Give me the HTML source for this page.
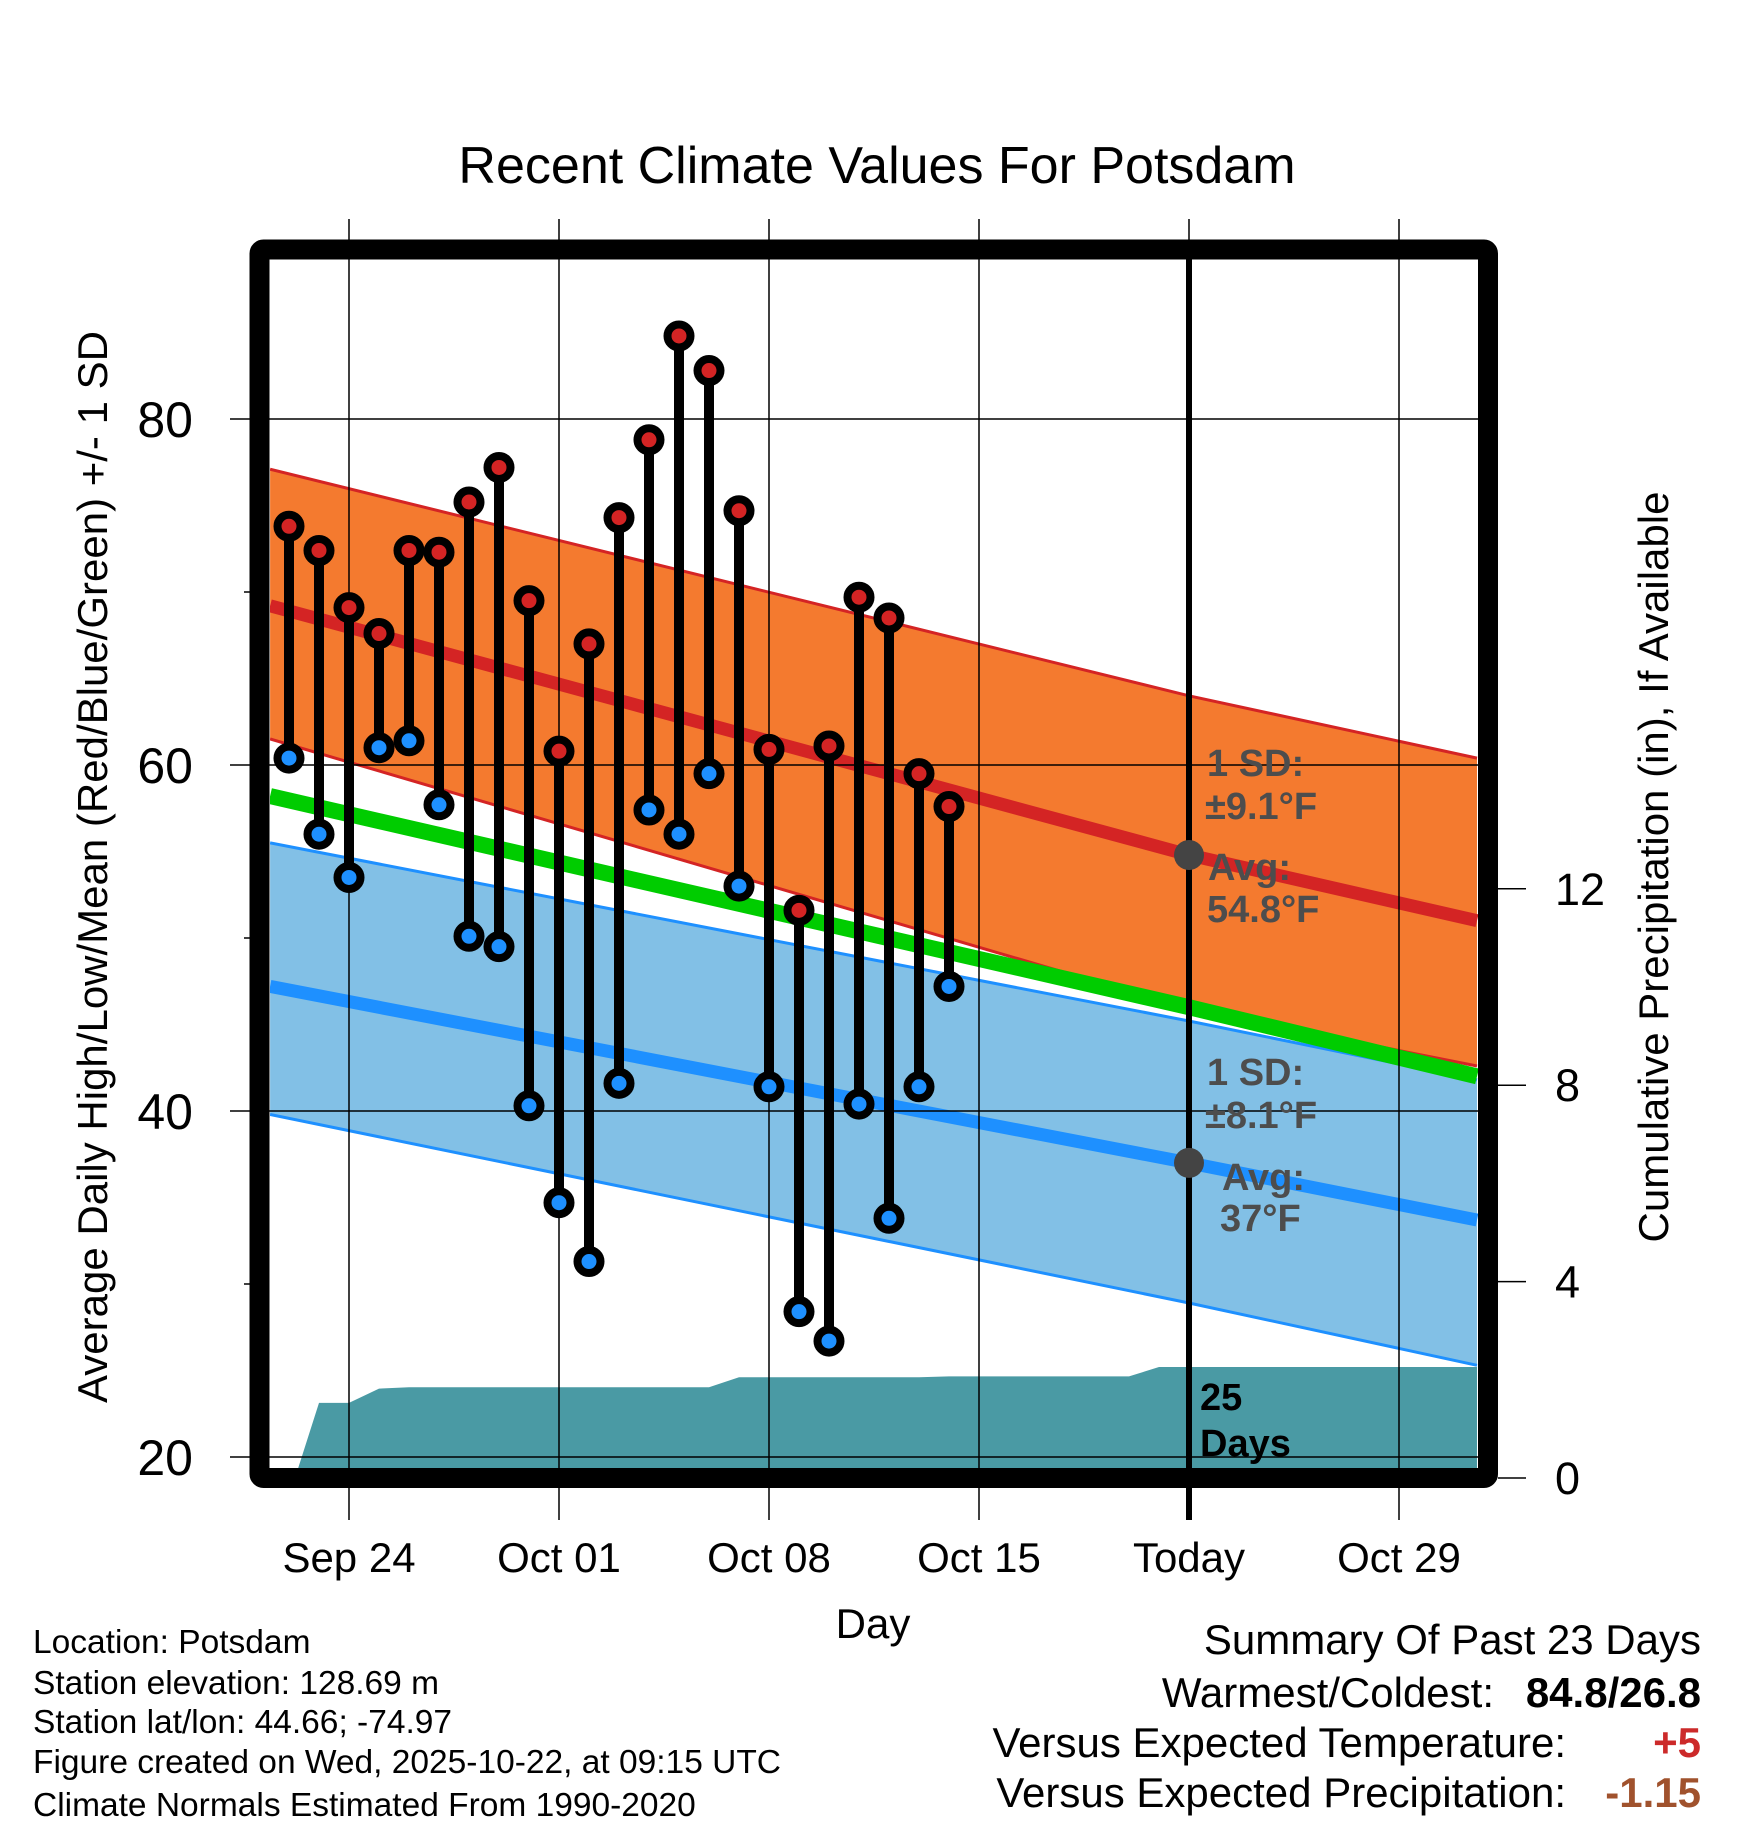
<!DOCTYPE html>
<html><head><meta charset="utf-8"><style>
body{margin:0;background:#fff}
svg{display:block;font-family:"Liberation Sans",Arial,sans-serif}
</style></head><body>
<svg id="chart" width="1748" height="1828" viewBox="0 0 1748 1828" xmlns="http://www.w3.org/2000/svg">
<defs><clipPath id="plotclip"><rect x="270" y="259" width="1208" height="1209"/></clipPath></defs>
<rect width="1748" height="1828" fill="#fff"/>
<text x="877" y="183" font-size="52" text-anchor="middle">Recent Climate Values For Potsdam</text>
<g id="plot" clip-path="url(#plotclip)"></g>
<g id="axes"></g>
<text transform="translate(107,867) rotate(-90)" font-size="42" text-anchor="middle">Average Daily High/Low/Mean (Red/Blue/Green) +/- 1 SD</text>
<text transform="translate(1668,867) rotate(-90)" font-size="42" text-anchor="middle">Cumulative Precipitation (in), If Available</text>
<text x="873" y="1638" font-size="42" text-anchor="middle">Day</text>
<g font-size="33.5">
<text x="33" y="1653">Location: Potsdam</text>
<text x="33" y="1694">Station elevation: 128.69 m</text>
<text x="33" y="1733">Station lat/lon: 44.66; -74.97</text>
<text x="33" y="1773">Figure created on Wed, 2025-10-22, at 09:15 UTC</text>
<text x="33" y="1816">Climate Normals Estimated From 1990-2020</text>
</g>
<g font-size="42">
<text x="1701" y="1654" text-anchor="end">Summary Of Past 23 Days</text>
<text x="1494" y="1707" text-anchor="end">Warmest/Coldest:</text>
<text x="1701" y="1707" text-anchor="end" font-weight="bold">84.8/26.8</text>
<text x="1566" y="1757" text-anchor="end">Versus Expected Temperature:</text>
<text x="1701" y="1757" text-anchor="end" font-weight="bold" fill="#cc2a2a">+5</text>
<text x="1566" y="1807" text-anchor="end">Versus Expected Precipitation:</text>
<text x="1701" y="1807" text-anchor="end" font-weight="bold" fill="#a0522d">-1.15</text>
</g>
</svg>
<script>
// days are offsets from Sep 24
const highs=[73.8,72.4,69.1,67.6,72.4,72.3,75.2,77.2,69.5,60.8,67.0,74.3,78.8,84.8,82.8,74.7,60.9,51.6,61.1,69.7,68.5,59.5,57.6];
const lows=[60.4,56.0,53.5,61.0,61.4,57.7,50.1,49.5,40.3,34.7,31.3,41.6,57.4,56.0,59.5,53.0,41.4,28.4,26.7,40.4,33.8,41.4,47.2];
const firstDay=-2;
const normDays=[-2.63,28,37.6];
const hiMean=[69.2,54.8,51.0];
const hiUp=[77.1,64.0,60.4];
const hiLo=[61.5,45.9,42.6];
const loMean=[47.2,37.0,33.7];
const loUp=[55.5,45.2,41.8];
const loLo=[39.8,28.9,25.3];
const avgMean=[58.2,46.0,42.0];
const precipDays=[-1.8,-1,0,1,2,12,13,19,20,26,27,37.6];
const precipVals=[0,1.53,1.53,1.82,1.85,1.85,2.05,2.05,2.07,2.07,2.26,2.26];
const xTickDays=[0,7,14,21,28,35];
const xTickLabels=["Sep 24","Oct 01","Oct 08","Oct 15","Today","Oct 29"];
const yTicks=[20,40,60,80];
const yMinor=[30,50,70];
const y2Ticks=[0,4,8,12];

const NS="http://www.w3.org/2000/svg";
const X=d=>349+30*d;
const Y=v=>419+(80-v)*17.3;
const P=p=>1478-49.1*p;
const plot=document.getElementById('plot');
const axes=document.getElementById('axes');
function mk(tag,attrs,parent){const e=document.createElementNS(NS,tag);for(const k in attrs)e.setAttribute(k,attrs[k]);parent.appendChild(e);return e;}
function pts(days,vals,fy){return days.map((d,i)=>X(d).toFixed(1)+','+fy(vals[i]).toFixed(1));}

// precip
let pp=pts(precipDays,precipVals,P);
pp.push(X(37.6)+','+1480, X(-1.8)+','+1480);
let e=mk('polygon',{points:pp.join(' '),fill:'#4a9aa4'},plot);



// grid
yTicks.forEach(v=>{let g=mk('line',{x1:230,x2:1480,y1:Y(v),y2:Y(v),stroke:'#000','stroke-width':1.5},axes);

});
xTickDays.forEach(d=>{let g=mk('line',{x1:X(d),x2:X(d),y1:219,y2:1520,stroke:'#000','stroke-width':1.5},axes);

});

function band(up,lo,fill,name){
 const a=pts(normDays,up,Y), b=pts(normDays,lo,Y).reverse();
 let p=mk('polygon',{points:a.concat(b).join(' '),fill:fill},plot);
 
 
}
function line(vals,col,w,name){
 let l=mk('polyline',{points:pts(normDays,vals,Y).join(' '),fill:'none',stroke:col,'stroke-width':w},plot);
 
 
}
band(loUp,loLo,'#82c0e6','low-sd-band');
band(hiUp,hiLo,'#f47a2f','high-sd-band');
line(loUp,'#1e90ff',3,'low-band-upper');
line(loLo,'#1e90ff',3,'low-band-lower');
line(hiLo,'#d42424',3,'high-band-lower');
line(avgMean,'#00cc00',16,'mean-normal-line');
line(hiUp,'#d42424',3,'high-band-upper');
line(hiMean,'#d42424',13,'high-normal-line');
line(loMean,'#1e90ff',13,'low-normal-line');

// today line
let t=mk('line',{x1:X(28),x2:X(28),y1:259,y2:1520,stroke:'#000','stroke-width':6},axes);



// gray dots
[[54.8,'today-high-normal-dot'],[37,'today-low-normal-dot']].forEach(([v,n])=>{
 let c=mk('circle',{cx:X(28),cy:Y(v),r:15,fill:'#444'},axes);
 
 
});

// stems and points
highs.forEach((h,i)=>{
 const x=X(firstDay+i);
 let s=mk('line',{x1:x,x2:x,y1:Y(h),y2:Y(lows[i]),stroke:'#000','stroke-width':10},axes);
 
 
});
highs.forEach((h,i)=>{
 const x=X(firstDay+i);
 let c1=mk('circle',{cx:x,cy:Y(h),r:11.5,fill:'#d42424',stroke:'#000','stroke-width':8},axes);
 
 
 let c2=mk('circle',{cx:x,cy:Y(lows[i]),r:11.5,fill:'#1e90ff',stroke:'#000','stroke-width':8},axes);
 
 
});

// labels in plot
function txt(x,y,s,size,col,name,anchor){let e=mk('text',{x:x,y:y,'font-size':size,'font-weight':'bold',fill:col,'text-anchor':anchor||'start'},axes);e.textContent=s;
 
 return e;}
txt(1207,776,'1 SD:',38,'#4d4d4d','high-sd-label');
txt(1205,819,'±9.1°F',38,'#4d4d4d','high-sd-value');
txt(1208,880,'Avg:',38,'#4d4d4d','high-avg-label');
txt(1207,922,'54.8°F',38,'#4d4d4d','high-avg-value');
txt(1207,1085,'1 SD:',38,'#4d4d4d','low-sd-label');
txt(1205,1128,'±8.1°F',38,'#4d4d4d','low-sd-value');
txt(1222,1190,'Avg:',38,'#4d4d4d','low-avg-label');
txt(1220,1231,'37°F',38,'#4d4d4d','low-avg-value');
txt(1200,1410,'25',38,'#000','precip-days-count');
txt(1200,1456,'Days',38,'#000','precip-days-label');

// frame
let f=mk('rect',{x:259.5,y:249.5,width:1228.5,height:1228.5,fill:'none',stroke:'#000','stroke-width':20,rx:4},axes);



// ticks & labels
yTicks.forEach(v=>{let l=txt(193,Y(v)+18,String(v),50,'#000','y-tick-label','end');l.setAttribute('font-weight','normal');});
yMinor.forEach(v=>{let m=mk('line',{x1:244,x2:252,y1:Y(v),y2:Y(v),stroke:'#000','stroke-width':1.5},axes);
 
 });
y2Ticks.forEach(v=>{let m=mk('line',{x1:1498,x2:1526,y1:P(v),y2:P(v),stroke:'#000','stroke-width':1.5},axes);
 
 
 let l=txt(1555,P(v)+16,String(v),45,'#000','y2-tick-label');l.setAttribute('font-weight','normal');});
xTickDays.forEach((d,i)=>{let l=txt(X(d),1572,xTickLabels[i],42,'#000','x-tick-label','middle');l.setAttribute('font-weight','normal');});
</script>
</body></html>
